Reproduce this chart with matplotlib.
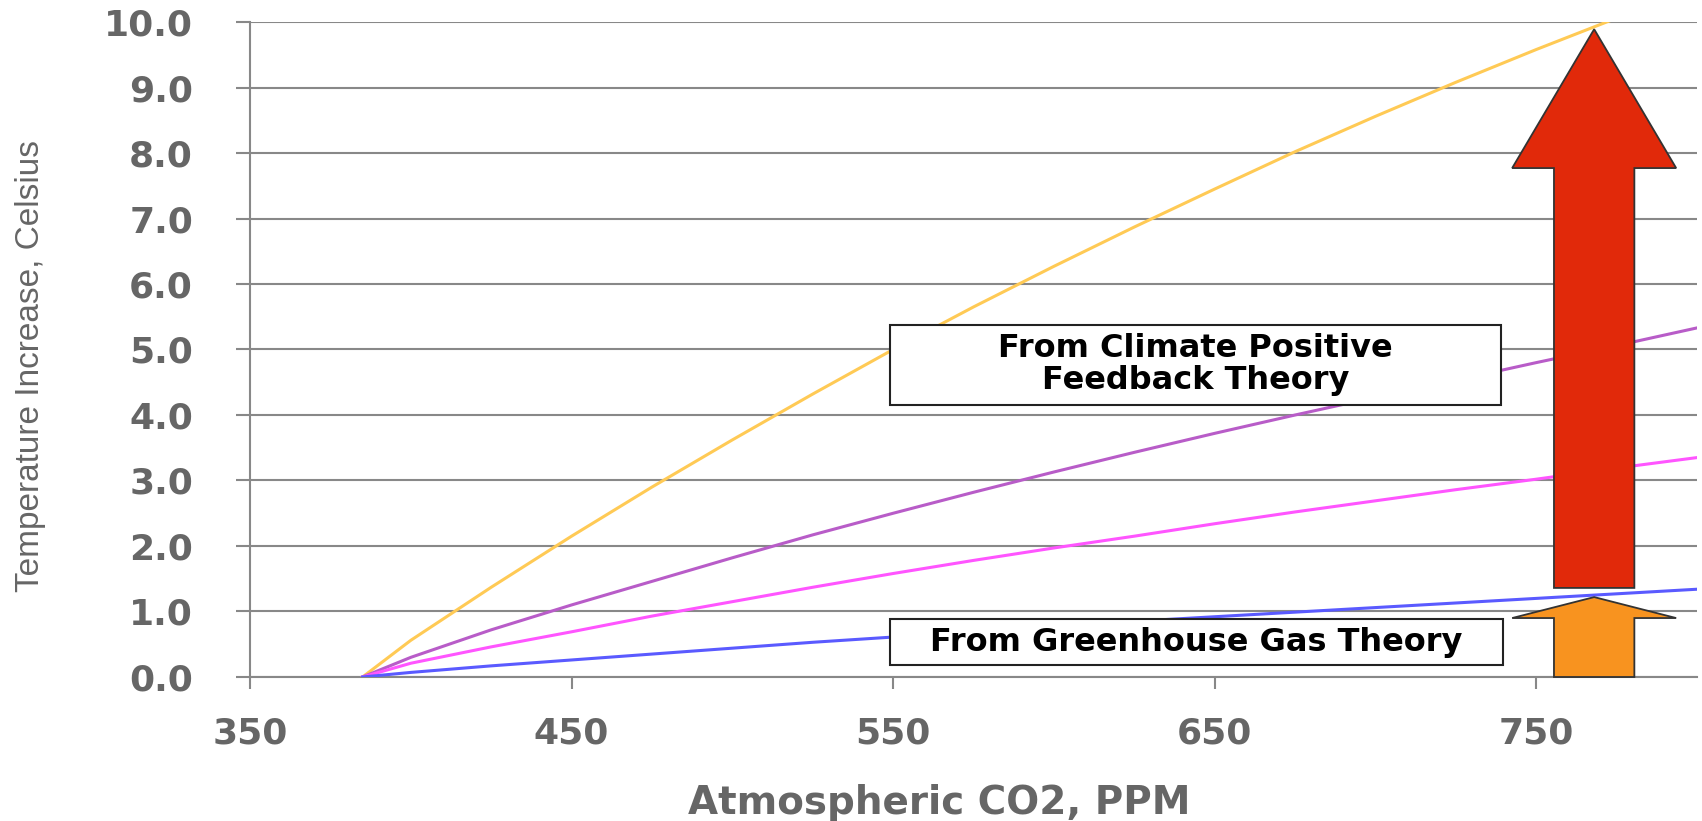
import numpy as np
import matplotlib.pyplot as plt
from matplotlib.patches import Rectangle

# CO2 concentration (ppm) and warming (deg C)
ppm = [385, 400, 425, 450, 475, 500, 525, 550, 575, 600, 625, 650, 675, 700, 725, 750, 775, 800]
high_fb = [0, 0.56, 1.37, 2.15, 2.9, 3.62, 4.32, 5.0, 5.65, 6.27, 6.87, 7.45, 8.02, 8.56, 9.08, 9.58, 10.06, 10.52]
mid_fb = [0, 0.3, 0.72, 1.1, 1.46, 1.82, 2.17, 2.5, 2.82, 3.13, 3.43, 3.72, 4.0, 4.27, 4.53, 4.8, 5.06, 5.33]
low_fb = [0, 0.21, 0.46, 0.69, 0.93, 1.15, 1.37, 1.58, 1.78, 1.97, 2.15, 2.34, 2.52, 2.69, 2.86, 3.02, 3.19, 3.35]
ghg_only = [0, 0.07, 0.17, 0.26, 0.35, 0.44, 0.53, 0.61, 0.69, 0.77, 0.85, 0.92, 0.99, 1.06, 1.13, 1.2, 1.27, 1.34]

series = [high_fb, mid_fb, low_fb, ghg_only]
colors = ['#FFCA55', '#B85CC8', '#FF55FF', '#5A5AFF']

xticks = [350, 450, 550, 650, 750]
yticks = np.arange(0, 10.5, 1.0)

# annotation arrows (x position, tip / base values in deg C)
arrow_x = 768
red_base, red_tip, red_head = 1.36, 9.89, 2.12
orange_tip, orange_head = 1.22, 0.32

gray = '#666666'

fig = plt.figure(figsize=(17.02, 8.21), dpi=100)
ax = fig.add_axes([0.1469, 0.1754, 0.8502, 0.7978])

ax.set_xlim(350, 800)
ax.set_ylim(0, 10)
ax.set_yticks(yticks)
ax.set_yticklabels(['%.1f' % v for v in yticks])
ax.set_xticks(xticks)
ax.set_xticklabels([str(v) for v in xticks])

ax.grid(axis='y', color='#888888', linewidth=1.5, zorder=1)
ax.set_axisbelow(True)
for s in ['top', 'right']:
    ax.spines[s].set_visible(False)
for s in ['left', 'bottom']:
    ax.spines[s].set_color('#888888')
    ax.spines[s].set_linewidth(1.5)

ax.tick_params(axis='y', length=10, width=1.5, color='#888888', pad=31,
               labelsize=26, labelcolor=gray)
ax.tick_params(axis='x', length=8.6, width=1.5, color='#888888', pad=20,
               labelsize=26, labelcolor=gray)
for lab in ax.get_xticklabels() + ax.get_yticklabels():
    lab.set_fontweight('bold')
    lab.set_family('DejaVu Sans')

for vals, c in zip(series, colors):
    ax.plot(ppm, vals, color=c, linewidth=2.2, zorder=3)

# arrows
ax.arrow(arrow_x, red_base, 0, red_tip - red_base, width=25, head_width=51,
         head_length=red_head, length_includes_head=True,
         fc='#E1290A', ec='#333333', lw=1.3, zorder=5)
ax.arrow(arrow_x, 0, 0, orange_tip, width=25, head_width=51,
         head_length=orange_head, length_includes_head=True,
         fc='#F8931F', ec='#333333', lw=1.3, zorder=5, clip_on=False)

# text boxes
boxes = [(549, 4.16, 190, 1.22, 'From Climate Positive\nFeedback Theory'),
         (549, 0.18, 190.5, 0.705, 'From Greenhouse Gas Theory')]
for x0, y0, w, h, txt in boxes:
    ax.add_patch(Rectangle((x0, y0), w, h, facecolor='white', edgecolor='#222222',
                           linewidth=1.5, zorder=6))
    ax.text(x0 + w / 2, y0 + h / 2, txt, ha='center', va='center', fontsize=23,
            fontweight='bold', family='DejaVu Sans', color='black',
            linespacing=1.05, zorder=7)

fig.text(0.0182, 0.554, 'Temperature Increase, Celsius', rotation=90,
         ha='center', va='center', fontsize=24, color=gray, family='Liberation Sans')
fig.text(0.552, 0.022, 'Atmospheric CO2, PPM', ha='center', va='center',
         fontsize=28, fontweight='bold', color=gray, family='DejaVu Sans')

fig.savefig('out.png', dpi=100)
